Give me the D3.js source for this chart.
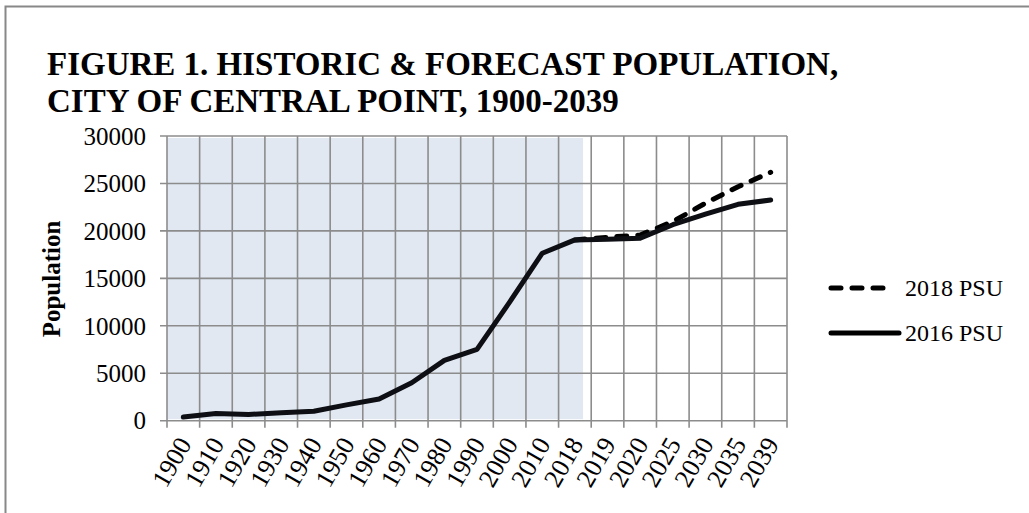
<!DOCTYPE html>
<html><head><meta charset="utf-8">
<script src="https://cdn.jsdelivr.net/npm/d3@7"></script>
<style>body{margin:0;background:#fff}svg{display:block}text{font-family:"Liberation Serif","Times New Roman",serif;fill:#000}</style>
</head><body><svg id="c" width="1029" height="513"></svg>
<script>
const categories = ["1900","1910","1920","1930","1940","1950","1960","1970","1980","1990","2000","2010","2018","2019","2020","2025","2030","2035","2039"];
const psu2016 = [380,770,650,840,1000,1670,2290,4000,6360,7510,12500,17650,19050,19120,19230,20650,21760,22800,23260];
const psu2018 = [null,null,null,null,null,null,null,null,null,null,null,null,19050,19330,19570,20980,22920,24660,26180];
const yTicks = [0,5000,10000,15000,20000,25000,30000];
const titleLines = ["FIGURE 1. HISTORIC & FORECAST POPULATION,","CITY OF CENTRAL POINT, 1900-2039"];
const historicEnd = "2018";

const svg = d3.select("#c");
svg.append("rect").attr("width",1029).attr("height",513).attr("fill","#fff");
svg.append("path").attr("d","M5.5,513V6.5H1029").attr("fill","none").attr("stroke","#888").attr("stroke-width",2);

svg.selectAll("text.title").data(titleLines).enter().append("text")
  .attr("x",47).attr("y",(d,i)=>75+i*37).attr("font-size",33).attr("font-weight","bold").text(d=>d);

const x = d3.scaleBand().domain(categories).range([167,787]).padding(0);
const y = d3.scaleLinear().domain([0,30000]).range([420.7,136]);

svg.append("rect").attr("x",x.range()[0]).attr("y",y(30000)+2)
  .attr("width",x(historicEnd)+x.bandwidth()*0.75-x.range()[0])
  .attr("height",y(0)-y(30000)-3.5).attr("fill","#E1E8F2");

const grid = svg.append("g").attr("stroke","#8c8c8c").attr("stroke-width",1.6);
yTicks.forEach(t=>{
  grid.append("line").attr("x1",160).attr("x2",x.range()[1]).attr("y1",y(t)).attr("y2",y(t));
});
categories.forEach(c=>{
  grid.append("line").attr("x1",x(c)).attr("x2",x(c)).attr("y1",y(30000)).attr("y2",y(0)+7);
});
grid.append("line").attr("x1",x.range()[1]).attr("x2",x.range()[1]).attr("y1",y(30000)).attr("y2",y(0)+7);

svg.selectAll("text.yt").data(yTicks).enter().append("text")
  .attr("x",146).attr("y",d=>y(d)).attr("dy","0.35em").attr("text-anchor","end").attr("font-size",25).text(d=>d);

svg.append("text").attr("transform","translate(60,279) rotate(-90)").attr("text-anchor","middle")
  .attr("font-size",25).attr("font-weight","bold").text("Population");

svg.selectAll("text.xt").data(categories).enter().append("text")
  .attr("transform",d=>`translate(${x(d)+x.bandwidth()/2+9},${444}) rotate(-60)`)
  .attr("text-anchor","end").attr("font-size",26).text(d=>d);

const line = d3.line().defined(d=>d.v!=null).x(d=>x(d.c)+x.bandwidth()/2).y(d=>y(d.v));
svg.append("path").datum(categories.map((c,i)=>({c,v:psu2018[i]})))
  .attr("d",line).attr("fill","none").attr("stroke","#000").attr("stroke-width",5)
  .attr("stroke-dasharray","10,11").attr("stroke-linecap","round").attr("stroke-linejoin","round");
svg.append("path").datum(categories.map((c,i)=>({c,v:psu2016[i]})))
  .attr("d",line).attr("fill","none").attr("stroke","#0d0f14").attr("stroke-width",5)
  .attr("stroke-linecap","round").attr("stroke-linejoin","round");

const lg = svg.append("g");
lg.append("line").attr("x1",831).attr("x2",889).attr("y1",288).attr("y2",288).attr("stroke","#000").attr("stroke-width",5)
  .attr("stroke-dasharray","10,11").attr("stroke-linecap","round");
lg.append("text").attr("x",905).attr("y",288).attr("dy","0.35em").attr("font-size",24).text("2018 PSU");
lg.append("line").attr("x1",831).attr("x2",899).attr("y1",333).attr("y2",333).attr("stroke","#000").attr("stroke-width",5)
  .attr("stroke-linecap","round");
lg.append("text").attr("x",905).attr("y",333).attr("dy","0.35em").attr("font-size",24).text("2016 PSU");
</script></body></html>
